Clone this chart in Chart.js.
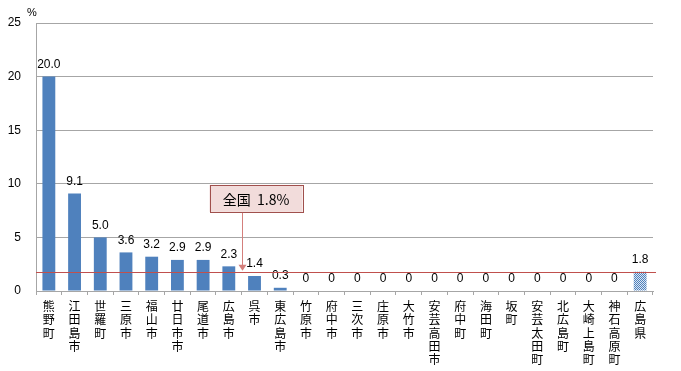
<!DOCTYPE html>
<html>
<head>
<meta charset="utf-8">
<script src="https://cdn.jsdelivr.net/npm/chart.js@4/dist/chart.umd.min.js"></script>
<style>
  html, body { margin: 0; padding: 0; background: #fff; }
  #wrap { width: 681px; height: 371px; }
</style>
</head>
<body>
<div id="wrap"><canvas id="chart" width="681" height="371"></canvas></div>
<script>
// ---- data ----
const cities = ['熊野町', '江田島市', '世羅町', '三原市', '福山市', '廿日市市', '尾道市', '広島市', '呉市', '東広島市',
  '竹原市', '府中市', '三次市', '庄原市', '大竹市', '安芸高田市', '府中町', '海田町', '坂町', '安芸太田町',
  '北広島町', '大崎上島町', '神石高原町', '広島県'];
const rates = [20.0, 9.1, 5.0, 3.6, 3.2, 2.9, 2.9, 2.3, 1.4, 0.3,
  0, 0, 0, 0, 0, 0, 0, 0, 0, 0,
  0, 0, 0, 1.8];
const yTicks = [0, 5, 10, 15, 20, 25];
const nationalRate = 1.8;
const nationalLabel = '全国  1.8%';

const BLUE = '#4f81bd';
const GRID = '#a6a6a6';
const FONT = "'Noto Sans CJK JP', sans-serif";
const NUMFONT = "'Liberation Sans', Arial, sans-serif";

// checkered fill for the prefecture bar
function checkerPattern() {
  const c = document.createElement('canvas');
  c.width = 2; c.height = 2;
  const g = c.getContext('2d');
  g.fillStyle = '#dce6f2'; g.fillRect(0, 0, 2, 2);
  g.fillStyle = BLUE;
  g.fillRect(0, 0, 1, 1); g.fillRect(1, 1, 1, 1);
  return g.createPattern(c, 'repeat');
}
const barColors = cities.map((c, i) => i === cities.length - 1 ? checkerPattern() : BLUE);

// value labels above each bar
const valueLabels = {
  id: 'valueLabels',
  afterDatasetsDraw(chart) {
    const ctx = chart.ctx;
    const meta = chart.getDatasetMeta(0);
    ctx.save();
    ctx.font = '12px ' + NUMFONT;
    ctx.fillStyle = '#000';
    ctx.textAlign = 'center';
    ctx.textBaseline = 'bottom';
    meta.data.forEach((bar, i) => {
      const v = rates[i];
      const txt = v === 0 ? '0' : v.toFixed(1);
      ctx.fillText(txt, bar.x, bar.y - 6);
    });
    ctx.restore();
  }
};

// national average line, callout box, unit label
const nationalLine = {
  id: 'nationalLine',
  afterDatasetsDraw(chart) {
    const { ctx, chartArea, scales } = chart;
    const y = scales.y.getPixelForValue(nationalRate);
    ctx.save();
    ctx.strokeStyle = '#c0504d';
    ctx.lineWidth = 1;
    ctx.beginPath();
    ctx.moveTo(chartArea.left, Math.round(y) + 0.5);
    ctx.lineTo(chartArea.right + 3, Math.round(y) + 0.5);
    ctx.stroke();

    // callout
    const ax = Math.round(scales.x.getPixelForValue(7.5)) + 0.5;
    const boxTop = scales.y.getPixelForValue(9.9);
    const boxH = 27, boxW = 93;
    const boxL = ax - 33;
    ctx.fillStyle = '#f2dcdb';
    ctx.fillRect(boxL, boxTop, boxW, boxH);
    ctx.strokeStyle = '#a0504d';
    ctx.strokeRect(Math.round(boxL) + 0.5, Math.round(boxTop) + 0.5, boxW, boxH);
    ctx.fillStyle = '#000';
    ctx.font = '14px ' + FONT;
    ctx.textAlign = 'center';
    ctx.textBaseline = 'middle';
    ctx.fillText(nationalLabel, boxL + boxW / 2, boxTop + boxH / 2 + 1);

    // arrow
    ctx.strokeStyle = '#d47f7c';
    ctx.fillStyle = '#d47f7c';
    ctx.beginPath();
    ctx.moveTo(ax, boxTop + boxH + 1);
    ctx.lineTo(ax, y - 6);
    ctx.stroke();
    ctx.beginPath();
    ctx.moveTo(ax - 4, y - 7);
    ctx.lineTo(ax + 4, y - 7);
    ctx.lineTo(ax, y - 1);
    ctx.closePath();
    ctx.fill();

    // unit
    ctx.fillStyle = '#000';
    ctx.font = '11px ' + NUMFONT;
    ctx.fillText('%', chartArea.left - 4, chartArea.top - 10);
    ctx.restore();
  }
};

new Chart(document.getElementById('chart'), {
  type: 'bar',
  data: {
    labels: cities.map(c => c.split('')),
    datasets: [{
      data: rates,
      backgroundColor: barColors,
      borderWidth: 0,
      categoryPercentage: 1.0,
      barPercentage: 0.5,
    }]
  },
  options: {
    responsive: false,
    animation: false,
    layout: { padding: { top: 23, right: 28, left: 0, bottom: 0 } },
    plugins: {
      legend: { display: false },
      tooltip: { enabled: false },
    },
    scales: {
      x: {
        grid: { offset: true, drawOnChartArea: false, drawTicks: true, tickLength: 4, color: GRID },
        border: { color: GRID },
        ticks: {
          autoSkip: false, maxRotation: 0, minRotation: 0, padding: 5, color: '#000',
          font: { family: FONT, size: 12, lineHeight: 1.1 },
        },
        afterFit: s => { s.height = 80; },
      },
      y: {
        min: 0, max: 25,
        afterBuildTicks: s => { s.ticks = yTicks.map(v => ({ value: v })); },
        grid: { color: GRID, drawTicks: false },
        border: { color: GRID },
        ticks: { padding: 15, color: '#000', font: { family: NUMFONT, size: 12 } },
        afterFit: s => { s.width = 36; },
      }
    }
  },
  plugins: [valueLabels, nationalLine]
});
</script>
</body>
</html>
